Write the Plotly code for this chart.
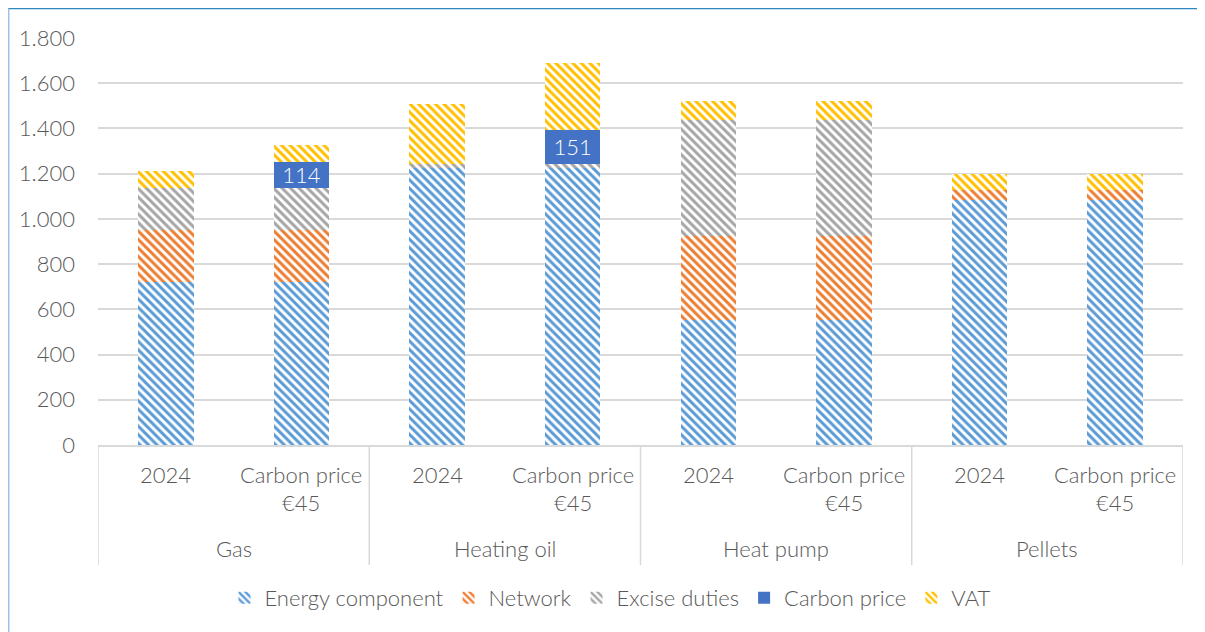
import plotly.graph_objects as go

groups = ["Gas", "Heating oil", "Heat pump", "Pellets"]
scenarios = ["2024", "Carbon price €45"]
scenario_lines = [["2024"], ["Carbon price", "€45"]]

energy = [721, 721, 1224, 1224, 553, 553, 1085, 1085]
network = [232, 232, 0, 0, 370, 370, 44, 44]
excise = [185, 185, 20, 20, 514, 514, 0, 0]
carbon = [0, 114, 0, 151, 0, 0, 0, 0]
vat = [72, 74, 264, 296, 83, 83, 68, 68]

series = [
    ("Energy component", energy, "#5B9BD5", True),
    ("Network", network, "#ED7D31", True),
    ("Excise duties", excise, "#A5A5A5", True),
    ("Carbon price", carbon, "#4472C4", False),
    ("VAT", vat, "#FFC000", True),
]

FONT = "Lato"
WEIGHT = 300
TXT = "#595959"
FS = 22
GRID = "#D9D9D9"

# positions of the bars: one slot per (group, scenario)
xpos = list(range(len(groups) * len(scenarios)))
hover_labels = [f"{g} – {s}" for g in groups for s in scenarios]


def fnt(color=TXT, size=FS):
    return dict(size=size, color=color, family=FONT, weight=WEIGHT)


fig = go.Figure()
for name, vals, col, patterned in series:
    if patterned:
        marker = dict(color="white", line=dict(width=0),
                      pattern=dict(shape="\\", fgcolor=col, bgcolor="white",
                                   size=6, solidity=0.5, fillmode="replace"))
        fig.add_trace(go.Bar(name=name, x=xpos, y=vals, marker=marker,
                             customdata=hover_labels,
                             hovertemplate="%{customdata}<br>" + name + ": %{y}<extra></extra>"))
    else:
        labels = [str(v) if v else "" for v in vals]
        fig.add_trace(go.Bar(name=name, x=xpos, y=vals,
                             marker=dict(color=col, line=dict(width=0)),
                             text=labels, textposition="inside", insidetextanchor="middle",
                             constraintext="none",
                             textfont=fnt("white"),
                             textangle=0, customdata=hover_labels,
                             hovertemplate="%{customdata}<br>" + name + ": %{y}<extra></extra>"))

# plot area in figure pixels (page has an 8px body margin)
W, H = 1197, 624
L, R, T, B = 90, 22, 30, 187
PH = H - T - B
PW = W - L - R


def py(fig_y):
    return (H - B - fig_y) / PH


annotations = []
for gi, g in enumerate(groups):
    for si, lines in enumerate(scenario_lines):
        x = gi * len(scenarios) + si
        for li, line in enumerate(lines):
            annotations.append(dict(text=line, x=x, xref="x", y=py(466 + 28 * li), yref="paper",
                                    showarrow=False, xanchor="center", yanchor="middle",
                                    font=fnt()))
    annotations.append(dict(text=g, x=gi * len(scenarios) + 0.5, xref="x", y=py(540), yref="paper",
                            showarrow=False, xanchor="center", yanchor="middle",
                            font=fnt()))

shapes = []
for k in range(len(groups) + 1):
    xd = k * len(scenarios) - 0.5
    shapes.append(dict(type="line", xref="x", yref="paper", x0=xd, x1=xd, y0=0, y1=py(557),
                       line=dict(color=GRID, width=1.5)))
# outer frame (top and left)
shapes.append(dict(type="line", xref="paper", yref="paper", x0=-L / PW, x1=1 + R / PW,
                   y0=py(0.5), y1=py(0.5), line=dict(color="#2E86C1", width=1.5)))
shapes.append(dict(type="line", xref="paper", yref="paper", x0=(0.5 - L) / PW,
                   x1=(0.5 - L) / PW, y0=py(0.5), y1=py(H),
                   line=dict(color="#9DC3E6", width=2)))

fig.update_layout(
    barmode="stack",
    bargap=0.59,
    width=W, height=H,
    paper_bgcolor="white", plot_bgcolor="white",
    margin=dict(l=L, r=R, t=T, b=B),
    font=fnt(),
    separators=",.",
    showlegend=True,
    legend=dict(orientation="h", x=0.5 - 30 / PW, xanchor="center", y=py(590), yanchor="middle",
                font=fnt(), itemwidth=30, traceorder="normal"),
    yaxis=dict(range=[0, 1800], dtick=200, tickformat=",d", showgrid=True,
               gridcolor=GRID, gridwidth=1.5, zeroline=False, showline=False,
               ticks="", ticklabelstandoff=22, tickfont=fnt()),
    xaxis=dict(range=[-0.5, len(xpos) - 0.5], showline=True, linecolor=GRID, linewidth=1.5,
               showticklabels=False, ticks="", showgrid=False, zeroline=False),
    annotations=annotations,
    shapes=shapes,
)

fig.write_html("out.html")
